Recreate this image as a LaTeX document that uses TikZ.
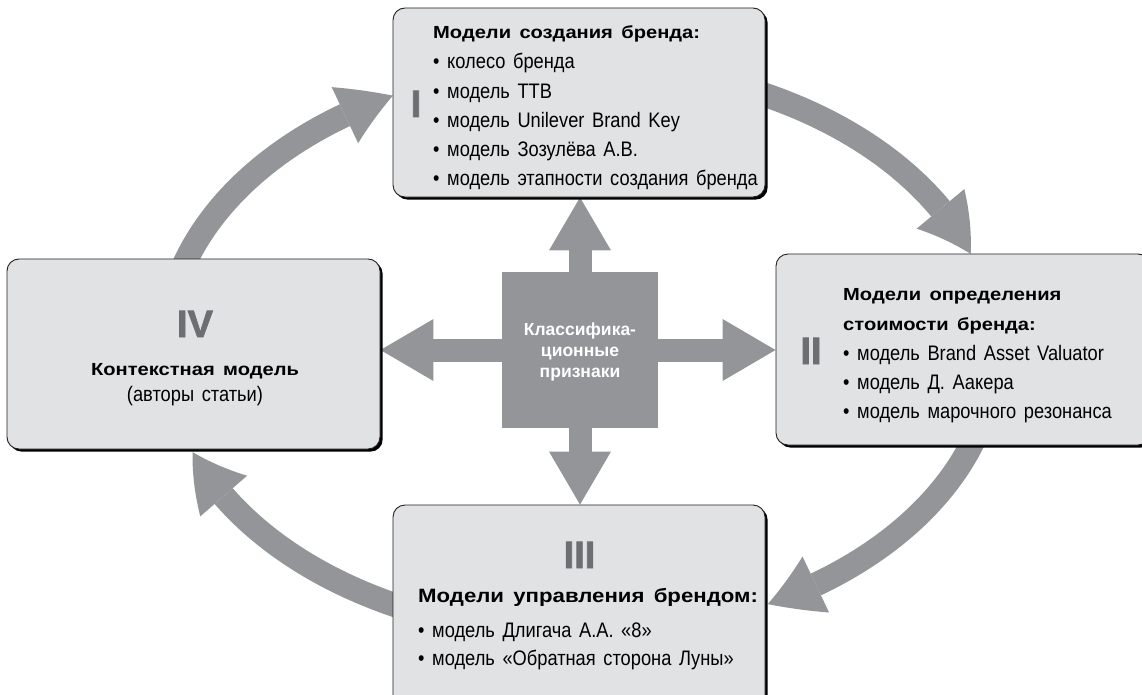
\documentclass[tikz,border=0pt]{standalone}
\usepackage{fontspec}
\setmainfont{Liberation Sans}[WordSpace=1.5, UprightFeatures={FakeStretch=0.87}, BoldFeatures={FakeStretch=1.15}]
\newfontfamily\plainsans{Liberation Sans}
\newfontfamily\numfont{Liberation Sans}[FakeBold=2]
\usetikzlibrary{arrows.meta,bending,shadows,backgrounds,calc}
\definecolor{arrowgray}{RGB}{147,149,152}
\definecolor{boxfill}{RGB}{225,226,228}
\definecolor{numgray}{RGB}{109,110,113}
\definecolor{edgecol}{RGB}{35,31,32}
\begin{document}
\begin{tikzpicture}[x=1pt,y=-1pt,
  box/.style={draw=edgecol, line width=0.9pt, fill=boxfill, rounded corners=12pt, inner sep=0pt,
    drop shadow={shadow xshift=2.6pt, shadow yshift=-2.6pt, fill=black, opacity=1}},
  sq/.style={fill=arrowgray, minimum size=156pt, inner sep=0pt},
  sarrow/.style={draw=arrowgray, line width=23pt, -{Triangle[length=53pt,width=62pt,line width=0pt]}},
  carrow/.style={draw=arrowgray, line width=24pt, -{Triangle[bend,length=53pt,width=62pt,line width=0pt]}},
  body/.style={anchor=base west, inner sep=0pt, font=\fontsize{21}{24}\selectfont},
  head/.style={anchor=base west, inner sep=0pt, font=\bfseries\fontsize{17.5}{21}\selectfont},
  headc/.style={anchor=base, inner sep=0pt, font=\bfseries\fontsize{17.5}{21}\selectfont},
  bodyc/.style={anchor=base, inner sep=0pt, font=\fontsize{21}{24}\selectfont},
  numeral/.style={anchor=base, inner sep=0pt, text=numgray, font=\numfont\bfseries\fontsize{38}{40}\selectfont},
  ctext/.style={anchor=base, inner sep=0pt, text=white, font=\plainsans\bfseries\fontsize{17.5}{20}\selectfont},
]
\useasboundingbox (0,0) rectangle (1142,695);
\clip (0,0) rectangle (1142,695);

% boxes
\node[box, minimum width=372pt, minimum height=189pt] (b1) at (579,102.5) {};
\node[box, minimum width=373pt, minimum height=190pt] (b4) at (193.5,354) {};
\node[box, minimum width=374pt, minimum height=191pt] (b2) at (963,349.5) {};
\node[box, minimum width=372pt, minimum height=205pt] (b3) at (579,607.5) {};
% central square
\node[sq] (cls) at (580,350) {};
\coordinate (ctr) at (580,350);

\begin{pgfonlayer}{background}
  \fill[white] (0,0) rectangle (1142,695);
  \draw[sarrow] (cls.north) -- (cls.north |- b1.south);
  \draw[sarrow] (cls.south) -- (cls.south |- b3.north);
  \draw[sarrow] (cls.west) -- (cls.west -| b4.east);
  \draw[sarrow] (cls.east) -- (cls.east -| b2.west);
  \coordinate (s1) at ($(ctr)+(194:415 and 285)$);
  \coordinate (s2) at ($(ctr)+(-68:415 and 285)$);
  \coordinate (s3) at ($(ctr)+(15:415 and 285)$);
  \coordinate (s4) at ($(ctr)+(112:415 and 285)$);
  \draw[carrow] (s1) arc[start angle=194, end angle=243.2, x radius=415, y radius=285];
  \draw[carrow] (s2) arc[start angle=-68, end angle=-19.7, x radius=415, y radius=285];
  \draw[carrow] (s3) arc[start angle=15, end angle=63.1, x radius=415, y radius=285];
  \draw[carrow] (s4) arc[start angle=112, end angle=159, x radius=415, y radius=285];
\end{pgfonlayer}

% box I
\node[numeral] (n1) at (416,117) {I};
\node[head] (t1a) at (433,38.3) {Модели создания бренда:};
\node[body] (t1b) at (433,68.3) {• колесо бренда};
\node[body] (t1c) at (433,98.5) {• модель TTB};
\node[body] (t1d) at (433,127.5) {• модель Unilever Brand Key};
\node[body] (t1e) at (433,156.5) {• модель Зозулёва А.В.};
\node[body] (t1f) at (433,185.5) {• модель этапности создания бренда};

% box II
\node[numeral] (n2) at (811,364) {II};
\node[head] (t2a) at (843,300) {Модели определения};
\node[head] (t2b) at (843,330) {стоимости бренда:};
\node[body] (t2c) at (843,360) {• модель Brand Asset Valuator};
\node[body] (t2d) at (843,389) {• модель Д. Аакера};
\node[body] (t2e) at (843,418) {• модель марочного резонанса};

% box III
\node[numeral] (n3) at (579.5,568) {III};
\node[head, font=\bfseries\fontsize{19.3}{21}\selectfont] (t3a) at (418,602) {Модели управления брендом:};
\node[body] (t3b) at (418,637) {• модель Длигача А.А. «8»};
\node[body] (t3c) at (418,665) {• модель «Обратная сторона Луны»};

% box IV
\node[numeral] (n4) at (195,337) {IV};
\node[headc] (t4a) at (195,375) {Контекстная модель};
\node[bodyc] (t4b) at (195,401) {(авторы статьи)};

% centre
\node[ctext] (c1) at (580,335) {Классифика-};
\node[ctext] (c2) at (580,356) {ционные};
\node[ctext] (c3) at (580,377) {признаки};
\end{tikzpicture}
\end{document}
